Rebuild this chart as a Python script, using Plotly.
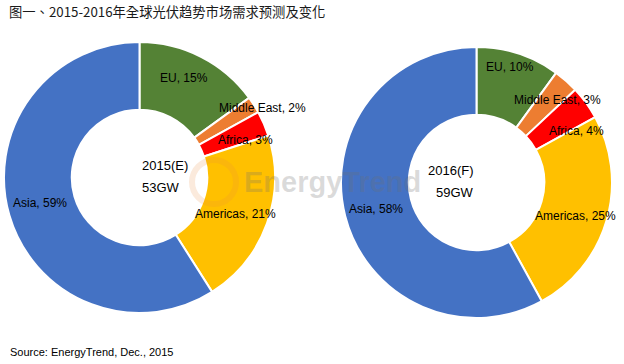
import math
import plotly.graph_objects as go

regions = ["EU", "Middle East", "Africa", "Americas", "Asia"]
share_2015 = [15, 2, 3, 21, 59]
share_2016 = [10, 3, 4, 25, 58]
years = ["2015(E)", "2016(F)"]
totals = ["53GW", "59GW"]
colors = ["#548235", "#ED7D31", "#FF0000", "#FFC000", "#4472C4"]

title_text = "图一、2015-2016年全球光伏趋势市场需求预测及变化"
source_text = "Source: EnergyTrend, Dec., 2015"
watermark_text = "EnergyTrend"

W, H = 624, 364
# pie placement (pixels): left, top, size
pie_boxes = [(4, 42, 271), (341, 47, 271)]
# label placement style: radial fraction and angular nudge (degrees) per slice
label_r = [[0.80, 1.04, 0.83, 0.76, 0.76], [0.89, 0.85, 0.83, 0.77, 0.77]]
label_nudge = [[-3, 2.8, 3.8, 1, 1.8], [-1.8, 3.2, 8.7, 2.6, -0.3]]

label_font = dict(family="Liberation Sans, Arial", size=12, color="black")

fig = go.Figure()
annotations = []
for i, vals in enumerate([share_2015, share_2016]):
    left, top, size = pie_boxes[i]
    dom = dict(x=[left / W, (left + size) / W], y=[1 - (top + size) / H, 1 - top / H])
    fig.add_trace(go.Pie(
        labels=regions,
        values=vals,
        domain=dom,
        hole=0.5,
        sort=False,
        direction="clockwise",
        rotation=0,
        marker=dict(colors=colors, line=dict(color="white", width=2)),
        textinfo="none",
        hoverinfo="label+value",
        showlegend=False,
    ))
    cx = left + size / 2
    cy = top + size / 2
    R = size / 2
    total = sum(vals)
    cum = 0
    for j, (lab, v) in enumerate(zip(regions, vals)):
        mid = (cum + v / 2) / total * 360 + label_nudge[i][j]
        cum += v
        r = label_r[i][j] * R
        px = cx + r * math.sin(math.radians(mid))
        py = cy - r * math.cos(math.radians(mid))
        annotations.append(dict(
            x=px / W, y=1 - py / H, xref="paper", yref="paper",
            text=f"{lab}, {v}%", showarrow=False, font=label_font,
            xanchor="center", yanchor="middle",
        ))
    # centre text
    annotations.append(dict(
        x=cx / W, y=1 - (cy - 12) / H, xref="paper", yref="paper",
        text=years[i], showarrow=False,
        font=dict(family="Liberation Sans, Arial", size=13, color="black"),
        yanchor="middle",
    ))
    annotations.append(dict(
        x=cx / W, y=1 - (cy + 10) / H, xref="paper", yref="paper",
        text=totals[i], showarrow=False,
        font=dict(family="Liberation Sans, Arial", size=13, color="black"),
        yanchor="middle",
    ))

# watermark
annotations.append(dict(
    x=332 / W, y=1 - 182 / H, xref="paper", yref="paper",
    text=f"<b>{watermark_text}</b>", showarrow=False,
    font=dict(family="Liberation Sans, Arial", size=29, color="rgba(110,110,110,0.25)"),
    yanchor="middle",
))

shapes = [dict(
    type="circle", xref="paper", yref="paper",
    x0=192 / W, x1=236 / W, y0=1 - 204 / H, y1=1 - 160 / H,
    line=dict(color="rgba(235,140,60,0.18)", width=6),
    fillcolor="rgba(0,0,0,0)", layer="above",
)]

annotations.append(dict(
    x=7 / W, y=1 - 12 / H, xref="paper", yref="paper",
    xanchor="left", yanchor="middle",
    text=title_text, showarrow=False,
    font=dict(family="Noto Sans CJK TC", size=13.3, color="#1a1a1a"),
))
annotations.append(dict(
    x=8 / W, y=1 - 352 / H, xref="paper", yref="paper",
    xanchor="left", yanchor="middle",
    text=source_text, showarrow=False,
    font=dict(family="Liberation Sans, Arial", size=11, color="black"),
))

fig.update_layout(
    width=W, height=H,
    margin=dict(l=0, r=0, t=0, b=0),
    paper_bgcolor="white",
    plot_bgcolor="white",
    annotations=annotations,
    shapes=shapes,
)

fig.write_html("out.html", config={"displayModeBar": False},
               post_script="document.body.style.margin='0px';")
